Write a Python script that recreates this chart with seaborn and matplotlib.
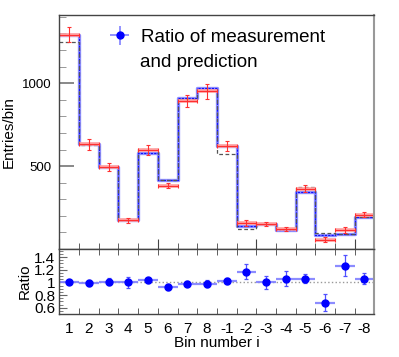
import numpy as np
import matplotlib
matplotlib.use("Agg")
import matplotlib.pyplot as plt
from matplotlib.ticker import MultipleLocator, FixedLocator
import seaborn as sns

# bin labels and values
bin_labels = ["1", "2", "3", "4", "5", "6", "7", "8",
              "-1", "-2", "-3", "-4", "-5", "-6", "-7", "-8"]
prediction = [1292, 632, 494, 174, 580, 416, 910, 972,
              620, 136, 152, 116, 344, 86, 92, 194]
alt_prediction = [1246, 630, 494, 174, 604, 418, 902, 956,
                  570, 122, 150, 120, 372, 94, 92, 190]
measurement = [1292, 632, 494, 174, 596, 382, 892, 952,
               620, 156, 152, 122, 364, 56, 112, 208]
measurement_err = [44, 33, 25, 15, 30, 16, 35, 45,
                   29, 20, 12, 12, 22, 15, 18, 18]
ratio = [1.01, 0.99, 1.01, 1.0, 1.03, 0.925, 0.98, 0.98,
         1.02, 1.17, 1.0, 1.06, 1.06, 0.68, 1.265, 1.06]
ratio_err = [0.02, 0.05, 0.055, 0.09, 0.04, 0.05, 0.04, 0.05,
             0.05, 0.12, 0.1, 0.12, 0.07, 0.14, 0.165, 0.09]

sns.set_style("ticks")
plt.rcParams["font.family"] = ["Liberation Sans", "DejaVu Sans"]
plt.rcParams["text.color"] = "black"
plt.rcParams["axes.labelcolor"] = "black"
plt.rcParams["xtick.labelcolor"] = "black"
plt.rcParams["ytick.labelcolor"] = "black"

n = len(bin_labels)
centers = np.arange(n) + 0.5
edges = np.arange(n + 1)


def step_values(vals):
    # repeat last value so steps-post closes the final bin
    return list(vals) + [vals[-1]]


fig = plt.figure(figsize=(3.99, 3.57), dpi=100)
ax = fig.add_axes([0.149, 0.3025, 0.789, 0.655])
rax = fig.add_axes([0.149, 0.1204, 0.789, 0.181])

# histograms
sns.lineplot(x=edges, y=step_values(prediction), drawstyle="steps-post",
             color="#9090ff", linewidth=2.4, ax=ax)
sns.lineplot(x=edges, y=step_values(prediction), drawstyle="steps-post",
             color="#1010ff", linewidth=0.8, linestyle=(0, (2, 1)), ax=ax)
sns.lineplot(x=edges, y=step_values(alt_prediction), drawstyle="steps-post",
             color="#555555", linewidth=0.9, linestyle=(0, (3, 2)), ax=ax)

# measurement
ax.hlines(measurement, edges[:-1], edges[1:], color="#ffa0a0", linewidth=2.6)
ax.errorbar(centers, measurement, yerr=measurement_err, xerr=0.5, fmt="none",
            ecolor="#ff3030", elinewidth=0.8, capsize=1.5, capthick=0.8)

ax.set_xlim(0, n)
ax.set_ylim(0, 1410)
ax.set_ylabel("Entries/bin", fontsize=11)
ax.set_xlabel("")
ax.yaxis.set_major_locator(FixedLocator([500, 1000]))
ax.yaxis.set_minor_locator(MultipleLocator(100))
ax.xaxis.set_major_locator(MultipleLocator(5))
ax.xaxis.set_minor_locator(MultipleLocator(1))
ax.set_xticklabels([])
ax.tick_params(axis="y", which="major", direction="in", length=11, width=1.4,
               color="#888888", labelsize=9.5, pad=6)
ax.tick_params(axis="y", which="minor", direction="in", length=5, color="#888888")
ax.tick_params(axis="x", which="major", direction="in", length=7, color="#444444")
ax.tick_params(axis="x", which="minor", direction="in", length=4, color="#444444")

# legend entry for the ratio points
leg_handle = ax.errorbar([], [], yerr=[], xerr=[], fmt="o", color="#0000ff",
                         ecolor="#8080ff", markersize=5, elinewidth=1.2)
ax.legend([leg_handle], ["Ratio of measurement"], loc="center left",
          bbox_to_anchor=(0.1476, 0.906), frameon=False, fontsize=13.5,
          handlelength=1.45, handletextpad=0.4, borderpad=0, borderaxespad=0)
ax.text(0.2556, 0.799, "and prediction", transform=ax.transAxes, fontsize=13.5,
        ha="left", va="center")

# ratio panel
rax.axhline(1, color="#999999", linestyle=":", linewidth=1)
rax.errorbar(centers, ratio, xerr=0.5, yerr=0, fmt="none", ecolor="#8080ff",
             elinewidth=1.6, alpha=0.9)
rax.errorbar(centers, ratio, yerr=ratio_err, fmt="o", color="#0000ff",
             ecolor="#5050ff", markersize=5, elinewidth=0.9, capsize=1.5, capthick=0.9)
rax.set_xlim(0, n)
rax.set_ylim(0.5, 1.52)
rax.set_ylabel("Ratio", fontsize=11, labelpad=2)
rax.set_xlabel("Bin number i", fontsize=11, labelpad=0)
rax.set_yticks([0.6, 0.8, 1.0, 1.2, 1.4])
rax.set_yticklabels(["0.6", "0.8", "1", "1.2", "1.4"])
rax.yaxis.set_minor_locator(MultipleLocator(0.05))
rax.set_xticks(centers)
rax.set_xticklabels(bin_labels)
rax.xaxis.set_minor_locator(FixedLocator(edges))
rax.tick_params(axis="x", which="major", length=0, labelsize=11, pad=6)
rax.tick_params(axis="x", which="minor", direction="in", length=4, top=True,
                color="#444444")
rax.tick_params(axis="y", which="major", direction="in", length=6, labelsize=11,
                color="#666666", pad=3)
rax.tick_params(axis="y", which="minor", direction="in", length=3, color="#666666")

for a in (ax, rax):
    for side, sp in a.spines.items():
        sp.set_color("#444444")
        sp.set_linewidth(1.0)
    a.spines["right"].set_color("#999999")
    a.spines["right"].set_linewidth(1.5)

fig.savefig("out.png", dpi=100)
